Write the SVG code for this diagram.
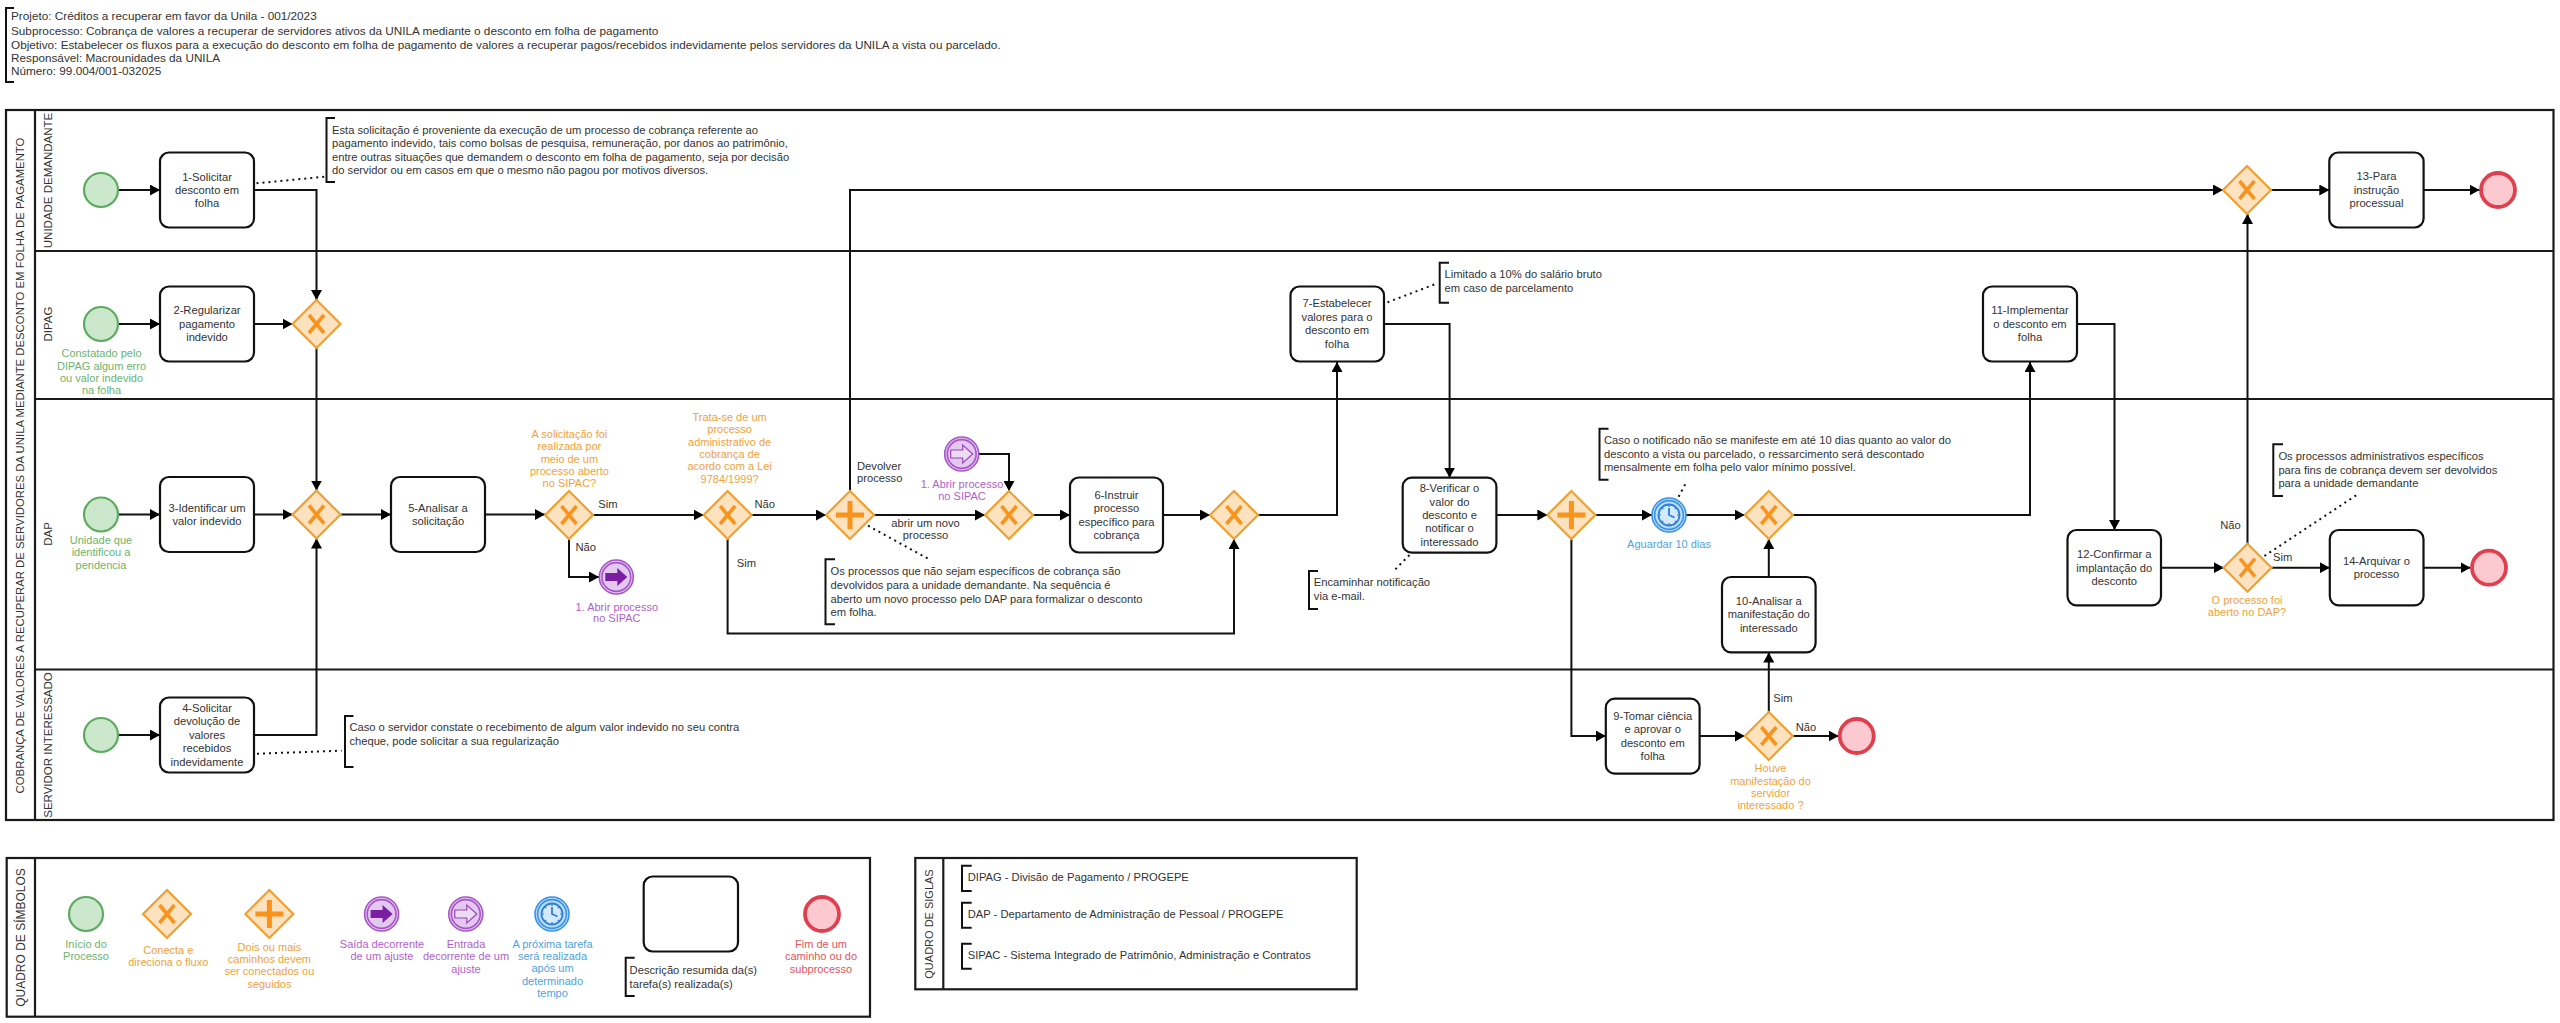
<svg xmlns="http://www.w3.org/2000/svg" xmlns:xlink="http://www.w3.org/1999/xlink" width="2560" height="1023" viewBox="0 0 2560 1023">
<style>
text{font-family:"Liberation Sans",Arial,sans-serif;font-size:11.2px;fill:#333}
.m{text-anchor:middle}
.q{font-size:11px;fill:#f0a23c;text-anchor:middle}
.g{font-size:11px;fill:#6cb46e;text-anchor:middle}
.p{font-size:11px;fill:#b25fcb;text-anchor:middle}
.b{font-size:11px;fill:#4ea3de;text-anchor:middle}
.r{font-size:11px;fill:#e0555f;text-anchor:middle}
.h{font-size:11.75px;fill:#333}
.pool{fill:none;stroke:#1a1a1a;stroke-width:2.2}
.task{fill:#fff;stroke:#111;stroke-width:2.2}
.c{fill:none;stroke:#111;stroke-width:2;marker-end:url(#a)}
.d{fill:none;stroke:#111;stroke-width:2;stroke-dasharray:2 4}
.br{fill:none;stroke:#111;stroke-width:2}
</style>
<defs>
<marker id="a" markerUnits="userSpaceOnUse" markerWidth="10" markerHeight="11" refX="10" refY="5.5" orient="auto"><path d="M0 0L10 5.5L0 11z" fill="#000"/></marker>
<path id="dm" d="M0-24L24 0L0 24L-24 0z" fill="#fde2bf" stroke="#f0a030" stroke-width="2.2"/>
<g id="gx"><use xlink:href="#dm"/><path d="M-7.5-9L7.5 9M7.5-9L-7.5 9" fill="none" stroke="#f8941e" stroke-width="3.6"/></g>
<g id="gp"><use xlink:href="#dm"/><path d="M0-14V14M-14 0H14" fill="none" stroke="#f8941e" stroke-width="5"/></g>
<circle id="st" r="17" fill="#cbe7cc" stroke="#5dab5f" stroke-width="2.2"/>
<circle id="en" r="17" fill="#fbc9cf" stroke="#e0404d" stroke-width="3.8"/>
<g id="io"><circle r="17" fill="#e3c8f0" stroke="#a855c8" stroke-width="1.6"/><circle r="14.4" fill="#e3c8f0" stroke="#a855c8" stroke-width="1.6"/><path d="M-11-4H1V-9L11 0L1 9V4H-11z" fill="#7b1fa2"/></g>
<g id="ii"><circle r="17" fill="#e3c8f0" stroke="#a855c8" stroke-width="1.6"/><circle r="14.4" fill="#e3c8f0" stroke="#a855c8" stroke-width="1.6"/><path d="M-11-4H1V-9L11 0L1 9V4H-11z" fill="#eedcf5" stroke="#9c45bd" stroke-width="1.2"/></g>
<g id="ti"><circle r="17" fill="#bcdcf8" stroke="#3a93e6" stroke-width="1.6"/><circle r="14.4" fill="#bcdcf8" stroke="#3a93e6" stroke-width="1.6"/><circle r="10.5" fill="#d6e9fb" stroke="#2b80d8" stroke-width="1.8"/><path d="M0-7V0L5.5 2.5" fill="none" stroke="#2b80d8" stroke-width="1.8"/><path d="M0-10V-8M0 10V8M-10 0H-8M10 0H8M-7-7L-5.8-5.8M7-7L5.8-5.8M-7 7L-5.8 5.8M7 7L5.8 5.8" stroke="#2b80d8" stroke-width="1.2"/></g>
</defs>
<rect width="2560" height="1023" fill="#fff"/>

<g id="cabecalho">
<path class="br" d="M14 8H6V82H14"/>
<text class="h" x="11" y="20">Projeto: Créditos a recuperar em favor da Unila - 001/2023</text>
<text class="h" x="11" y="34.5">Subprocesso: Cobrança de valores a recuperar de servidores ativos da UNILA mediante o desconto em folha de pagamento</text>
<text class="h" x="11" y="48.5">Objetivo: Estabelecer os fluxos para a execução do desconto em folha de pagamento de valores a recuperar pagos/recebidos indevidamente pelos servidores da UNILA a vista ou parcelado.</text>
<text class="h" x="11" y="61.5">Responsável: Macrounidades da UNILA</text>
<text class="h" x="11" y="74.5">Número: 99.004/001-032025</text>
</g>

<g id="pool">
<rect class="pool" x="6" y="110" width="2547.5" height="710"/>
<path class="pool" d="M35 110V820M35 251H2553.5M35 399H2553.5M35 669.5H2553.5"/>
<text transform="translate(24 465.5) rotate(-90)" class="m" style="font-size:11.35px">COBRANÇA DE VALORES A RECUPERAR DE SERVIDORES DA UNILA MEDIANTE DESCONTO EM FOLHA DE PAGAMENTO</text>
<text transform="translate(52 180.5) rotate(-90)" class="m" style="font-size:11.5px">UNIDADE DEMANDANTE</text>
<text transform="translate(52 324) rotate(-90)" class="m" style="font-size:11.5px">DIPAG</text>
<text transform="translate(52 534) rotate(-90)" class="m" style="font-size:11.5px">DAP</text>
<text transform="translate(52 745) rotate(-90)" class="m" style="font-size:11.5px">SERVIDOR INTERESSADO</text>
</g>

<g id="conectores">
<path class="c" d="M118 190H160"/>
<path class="c" d="M254 190H316.5V300"/>
<path class="c" d="M118 324H160"/>
<path class="c" d="M254 324H292.5"/>
<path class="c" d="M316.5 348V490.5"/>
<path class="c" d="M118 514.5H160"/>
<path class="c" d="M254 514.5H292.5"/>
<path class="c" d="M340.5 514.5H391"/>
<path class="c" d="M485 514.5H545"/>
<path class="c" d="M118 735H160"/>
<path class="c" d="M254 735H316.5V538.5"/>
<path class="c" d="M593 515H703.6"/>
<path class="c" d="M569 539V577H599"/>
<path class="c" d="M751.6 515H826"/>
<path class="c" d="M874 515H985"/>
<path class="c" d="M979 454H1009V491"/>
<path class="c" d="M1033 515H1070"/>
<path class="c" d="M1163 515H1210"/>
<path class="c" d="M727.6 539V633.5H1234V539"/>
<path class="c" d="M1258 515H1337V362"/>
<path class="c" d="M1384 324H1449.6V477.7"/>
<path class="c" d="M1496.4 515H1547.4"/>
<path class="c" d="M1595.4 515H1652"/>
<path class="c" d="M1686 515H1744.7"/>
<path class="c" d="M1792.7 515H2030V362"/>
<path class="c" d="M1571.4 539V736H1605.8"/>
<path class="c" d="M1699.6 736H1744.8"/>
<path class="c" d="M1792.8 736H1838.7"/>
<path class="c" d="M1768.8 712V652.5"/>
<path class="c" d="M1768.8 577V539"/>
<path class="c" d="M850 491V190H2223"/>
<path class="c" d="M2271 190H2329.3"/>
<path class="c" d="M2423.6 190H2479.5"/>
<path class="c" d="M2077 324H2114.5V530"/>
<path class="c" d="M2161 567.7H2223.7"/>
<path class="c" d="M2247.5 543.7V214"/>
<path class="c" d="M2271.5 567.7H2329.8"/>
<path class="c" d="M2423.5 567.7H2470.5"/>
<path class="d" d="M256.5 183.3L325 176.7"/>
<path class="d" d="M257 753.7L341.6 750.7"/>
<path class="d" d="M868 525.7L928.6 559"/>
<path class="d" d="M1387.5 302.3L1437.5 283.3"/>
<path class="d" d="M1409.4 555L1393 571.7"/>
<path class="d" d="M1678.6 496.7L1686.6 481.7"/>
<path class="d" d="M2264.4 556L2356.6 495"/>
<text x="608" class="m" y="508">Sim</text>
<text x="585.7" class="m" y="551">Não</text>
<text x="764.8" class="m" y="508">Não</text>
<text x="746.4" class="m" y="567">Sim</text>
<text x="857" y="470">Devolver</text>
<text x="857" y="482.3">processo</text>
<text x="925.5" class="m" y="527">abrir um novo</text>
<text x="925.5" class="m" y="539.3">processo</text>
<text x="1783" class="m" y="702">Sim</text>
<text x="1806" class="m" y="731">Não</text>
<text x="2230.5" class="m" y="528.7">Não</text>
<text x="2282.7" class="m" y="560.7">Sim</text>
</g>

<g id="e1"><use xlink:href="#st" x="101" y="190"/></g>
<g id="e2"><use xlink:href="#st" x="101" y="324"/>
<text class="g" x="101.5" y="357.3">Constatado pelo</text><text class="g" x="101.5" y="369.7">DIPAG algum erro</text><text class="g" x="101.5" y="382">ou valor indevido</text><text class="g" x="101.5" y="394.3">na folha</text></g>
<g id="e3"><use xlink:href="#st" x="101" y="514.5"/>
<text class="g" x="101" y="544">Unidade que</text><text class="g" x="101" y="556.2">identificou a</text><text class="g" x="101" y="568.5">pendencia</text></g>
<g id="e4"><use xlink:href="#st" x="101" y="735"/></g>

<g id="t1"><rect class="task" x="160" y="152.5" width="94" height="75" rx="9"/><text class="m" x="207" y="180.7">1-Solicitar</text><text class="m" x="207" y="194">desconto em</text><text class="m" x="207" y="207.3">folha</text></g>
<g id="t2"><rect class="task" x="160" y="286.5" width="94" height="75" rx="9"/><text class="m" x="207" y="314">2-Regularizar</text><text class="m" x="207" y="328">pagamento</text><text class="m" x="207" y="341">indevido</text></g>
<g id="t3"><rect class="task" x="160" y="477" width="94" height="75" rx="9"/><text class="m" x="207" y="511.6">3-Identificar um</text><text class="m" x="207" y="525">valor indevido</text></g>
<g id="t4"><rect class="task" x="160" y="697.5" width="94" height="75" rx="9"/><text class="m" x="207" y="711.6">4-Solicitar</text><text class="m" x="207" y="725.4">devolução de</text><text class="m" x="207" y="738.6">valores</text><text class="m" x="207" y="752.4">recebidos</text><text class="m" x="207" y="765.7">indevidamente</text></g>
<g id="t5"><rect class="task" x="391" y="477" width="94" height="75" rx="9"/><text class="m" x="438" y="511.6">5-Analisar a</text><text class="m" x="438" y="525">solicitação</text></g>
<g id="t6"><rect class="task" x="1070" y="477.5" width="93" height="75" rx="9"/><text class="m" x="1116.5" y="498.7">6-Instruir</text><text class="m" x="1116.5" y="512.3">processo</text><text class="m" x="1116.5" y="525.7">específico para</text><text class="m" x="1116.5" y="539.3">cobrança</text></g>
<g id="t7"><rect class="task" x="1290.5" y="286.5" width="93.5" height="75" rx="9"/><text class="m" x="1337" y="307.3">7-Estabelecer</text><text class="m" x="1337" y="321">valores para o</text><text class="m" x="1337" y="334.3">desconto em</text><text class="m" x="1337" y="348">folha</text></g>
<g id="t8"><rect class="task" x="1402.7" y="477.7" width="93.7" height="75" rx="9"/><text class="m" x="1449.5" y="491.7">8-Verificar o</text><text class="m" x="1449.5" y="505.7">valor do</text><text class="m" x="1449.5" y="519">desconto e</text><text class="m" x="1449.5" y="532.3">notificar o</text><text class="m" x="1449.5" y="545.7">interessado</text></g>
<g id="t9"><rect class="task" x="1605.8" y="698.7" width="93.8" height="75" rx="9"/><text class="m" x="1652.7" y="719.7">9-Tomar ciência</text><text class="m" x="1652.7" y="733.3">e aprovar o</text><text class="m" x="1652.7" y="746.7">desconto em</text><text class="m" x="1652.7" y="760">folha</text></g>
<g id="t10"><rect class="task" x="1722" y="577" width="93.6" height="75.3" rx="9"/><text class="m" x="1768.8" y="604.7">10-Analisar a</text><text class="m" x="1768.8" y="618.3">manifestação do</text><text class="m" x="1768.8" y="631.7">interessado</text></g>
<g id="t11"><rect class="task" x="1983" y="286.5" width="94" height="75" rx="9"/><text class="m" x="2030" y="314.3">11-Implementar</text><text class="m" x="2030" y="328">o desconto em</text><text class="m" x="2030" y="341">folha</text></g>
<g id="t12"><rect class="task" x="2067.5" y="530" width="93.5" height="75.3" rx="9"/><text class="m" x="2114.3" y="558.3">12-Confirmar a</text><text class="m" x="2114.3" y="571.7">implantação do</text><text class="m" x="2114.3" y="585">desconto</text></g>
<g id="t13"><rect class="task" x="2329.3" y="152.5" width="94.3" height="75" rx="9"/><text class="m" x="2376.5" y="180.3">13-Para</text><text class="m" x="2376.5" y="194">instrução</text><text class="m" x="2376.5" y="207">processual</text></g>
<g id="t14"><rect class="task" x="2329.8" y="530" width="93.7" height="75.3" rx="9"/><text class="m" x="2376.5" y="564.7">14-Arquivar o</text><text class="m" x="2376.5" y="578.3">processo</text></g>

<g id="gw1"><use xlink:href="#gx" x="316.5" y="324"/></g>
<g id="gw2"><use xlink:href="#gx" x="316.5" y="514.5"/></g>
<g id="gw3"><use xlink:href="#gx" x="569" y="515"/>
<text class="q" x="569.4" y="438">A solicitação foi</text><text class="q" x="569.4" y="450.3">realizada por</text><text class="q" x="569.4" y="462.7">meio de um</text><text class="q" x="569.4" y="475">processo aberto</text><text class="q" x="569.4" y="487.3">no SIPAC?</text></g>
<g id="gw4"><use xlink:href="#gx" x="727.6" y="515"/>
<text class="q" x="729.6" y="421">Trata-se de um</text><text class="q" x="729.6" y="433.3">processo</text><text class="q" x="729.6" y="445.7">administrativo de</text><text class="q" x="729.6" y="458">cobrança de</text><text class="q" x="729.6" y="470.3">acordo com a Lei</text><text class="q" x="729.6" y="482.7">9784/1999?</text></g>
<g id="gp1"><use xlink:href="#gp" x="850" y="515"/></g>
<g id="gw5"><use xlink:href="#gx" x="1009" y="515"/></g>
<g id="gw6"><use xlink:href="#gx" x="1234" y="515"/></g>
<g id="gp2"><use xlink:href="#gp" x="1571.4" y="515"/></g>
<g id="gw7"><use xlink:href="#gx" x="1768.8" y="515"/></g>
<g id="gw8"><use xlink:href="#gx" x="1768.8" y="736"/>
<text class="q" x="1770.5" y="772.3">Houve</text><text class="q" x="1770.5" y="784.5">manifestação do</text><text class="q" x="1770.5" y="797">servidor</text><text class="q" x="1770.5" y="809.3">interessado ?</text></g>
<g id="gw9"><use xlink:href="#gx" x="2247" y="190"/></g>
<g id="gw10"><use xlink:href="#gx" x="2247.5" y="567.7"/>
<text class="q" x="2247" y="604">O processo foi</text><text class="q" x="2247" y="616.3">aberto no DAP?</text></g>

<g id="io1"><use xlink:href="#io" x="616.3" y="577"/><text class="p" x="616.8" y="610.7">1. Abrir processo</text><text class="p" x="616.8" y="622.3">no SIPAC</text></g>
<g id="ii1"><use xlink:href="#ii" x="961.7" y="454"/><text class="p" x="962" y="487.7">1. Abrir processo</text><text class="p" x="962" y="499.7">no SIPAC</text></g>
<g id="ti1"><use xlink:href="#ti" x="1669" y="515"/><text class="b" x="1669" y="548.3">Aguardar 10 dias</text></g>
<g id="end1"><use xlink:href="#en" x="1856.7" y="736"/></g>
<g id="end2"><use xlink:href="#en" x="2498" y="190"/></g>
<g id="end3"><use xlink:href="#en" x="2489" y="567.7"/></g>

<g id="n1"><path class="br" d="M335 118H326.5V182H335"/><text x="332" y="134">Esta solicitação é proveniente da execução de um processo de cobrança referente ao</text><text x="332" y="147.3">pagamento indevido, tais como bolsas de pesquisa, remuneração, por danos ao patrimônio,</text><text x="332" y="160.7">entre outras situações que demandem o desconto em folha de pagamento, seja por decisão</text><text x="332" y="174">do servidor ou em casos em que o mesmo não pagou por motivos diversos.</text></g>
<g id="n2"><path class="br" d="M353.5 716H345V767H353.5"/><text x="349.4" y="731">Caso o servidor constate o recebimento de algum valor indevido no seu contra</text><text x="349.4" y="745">cheque, pode solicitar a sua regularização</text></g>
<g id="n3"><path class="br" d="M835 559.3H825.5V624.3H835"/><text x="830.6" y="575">Os processos que não sejam específicos de cobrança são</text><text x="830.6" y="589">devolvidos para a unidade demandante. Na sequência é</text><text x="830.6" y="602.5">aberto um novo processo pelo DAP para formalizar o desconto</text><text x="830.6" y="616">em folha.</text></g>
<g id="n4"><path class="br" d="M1449 262.7H1439.7V302.7H1449"/><text x="1444.6" y="278.3">Limitado a 10% do salário bruto</text><text x="1444.6" y="292">em caso de parcelamento</text></g>
<g id="n5"><path class="br" d="M1318 571H1309V609H1318"/><text x="1313.8" y="586.3">Encaminhar notificação</text><text x="1313.8" y="600">via e-mail.</text></g>
<g id="n6"><path class="br" d="M1608.5 428.7H1599.5V479.7H1608.5"/><text x="1604" y="444">Caso o notificado não se manifeste em até 10 dias quanto ao valor do</text><text x="1604" y="457.7">desconto a vista ou parcelado, o ressarcimento será descontado</text><text x="1604" y="471.3">mensalmente em folha pelo valor mínimo possível.</text></g>
<g id="n7"><path class="br" d="M2283 444.3H2273.3V496H2283"/><text x="2278.4" y="459.7">Os processos administrativos específicos</text><text x="2278.4" y="473.7">para fins de cobrança devem ser devolvidos</text><text x="2278.4" y="487.3">para a unidade demandante</text></g>

<g id="legenda">
<rect class="pool" x="6.7" y="858" width="863.3" height="158.7"/>
<path class="pool" d="M35 858V1016.7"/>
<text transform="translate(24.5 937.5) rotate(-90)" class="m" style="font-size:12px">QUADRO DE SÍMBOLOS</text>
<use xlink:href="#st" x="86" y="914"/>
<text class="g" x="86" y="947.7">Início do</text><text class="g" x="86" y="959.7">Processo</text>
<use xlink:href="#gx" x="167" y="914"/>
<text class="q" x="168.3" y="954">Conecta e</text><text class="q" x="168.3" y="966.3">direciona o fluxo</text>
<use xlink:href="#gp" x="269.4" y="914"/>
<text class="q" x="269.4" y="950.7">Dois ou mais</text><text class="q" x="269.4" y="962.7">caminhos devem</text><text class="q" x="269.4" y="975.3">ser conectados ou</text><text class="q" x="269.4" y="987.7">seguidos</text>
<use xlink:href="#io" x="381.6" y="914"/>
<text class="p" x="382" y="947.7">Saída decorrente</text><text class="p" x="382" y="959.7">de um ajuste</text>
<use xlink:href="#ii" x="465.8" y="914"/>
<text class="p" x="466" y="947.7">Entrada</text><text class="p" x="466" y="960">decorrente de um</text><text class="p" x="466" y="972.7">ajuste</text>
<use xlink:href="#ti" x="552" y="914"/>
<text class="b" x="552.5" y="947.7">A próxima tarefa</text><text class="b" x="552.5" y="960">será realizada</text><text class="b" x="552.5" y="972.3">após um</text><text class="b" x="552.5" y="985">determinado</text><text class="b" x="552.5" y="997">tempo</text>
<rect class="task" x="643.7" y="876.5" width="94.3" height="75" rx="9"/>
<path class="br" d="M634.7 957.7H625.7V996H634.7"/>
<text x="629.6" y="974">Descrição resumida da(s)</text><text x="629.6" y="987.7">tarefa(s) realizada(s)</text>
<use xlink:href="#en" x="822" y="914"/>
<text class="r" x="821" y="947.7">Fim de um</text><text class="r" x="821" y="960">caminho ou do</text><text class="r" x="821" y="972.7">subprocesso</text>
</g>

<g id="siglas">
<rect class="pool" x="915.3" y="858" width="441.4" height="131.3"/>
<path class="pool" d="M943.3 858V989.3"/>
<text transform="translate(933 924) rotate(-90)" class="m" style="font-size:11px">QUADRO DE SIGLAS</text>
<path class="br" d="M971.7 865.7H962V891H971.7"/><text x="967.7" y="881.3">DIPAG - Divisão de Pagamento / PROGEPE</text>
<path class="br" d="M971.7 902.7H962V927.7H971.7"/><text x="967.7" y="918">DAP - Departamento de Administração de Pessoal / PROGEPE</text>
<path class="br" d="M971.7 943.7H962V968.7H971.7"/><text x="967.7" y="959.3">SIPAC - Sistema Integrado de Patrimônio, Administração e Contratos</text>
</g>
</svg>
